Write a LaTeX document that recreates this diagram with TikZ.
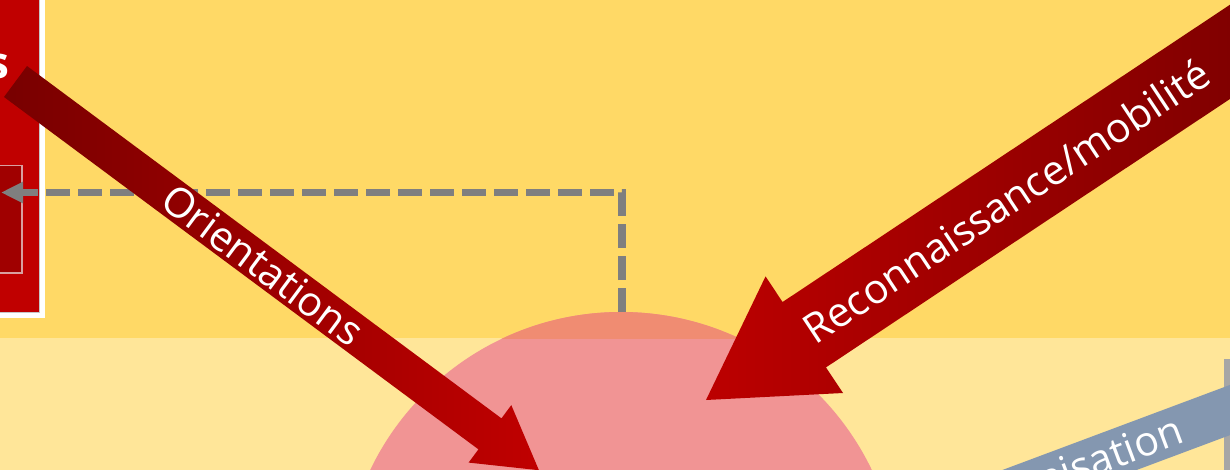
\documentclass[tikz,border=0pt]{standalone}
\usepackage{fontspec}
\setmainfont{Open Sans}
\usetikzlibrary{arrows.meta}
\definecolor{bgtop}{HTML}{FFD966}
\definecolor{bgbot}{HTML}{FFE699}
\definecolor{boxred}{HTML}{C00000}
\definecolor{innerred}{HTML}{A00000}
\definecolor{innerline}{HTML}{D9A0A0}
\definecolor{sunlow}{HTML}{F19494}
\definecolor{sunhigh}{HTML}{F08C72}
\definecolor{dashgray}{HTML}{7F7F7F}
\definecolor{barblue}{HTML}{8497B0}
\definecolor{bargray}{HTML}{A6A6A6}
\definecolor{reddark}{HTML}{780000}
\definecolor{redbright}{HTML}{C00000}
\definecolor{redtip}{HTML}{BC0000}
\definecolor{redtail}{HTML}{780000}
\begin{document}
\begin{tikzpicture}[x=1pt,y=-1pt,
  arrowlabel/.style={text=white, inner sep=0pt, font=\fontsize{41}{49}\selectfont},
  dashlink/.style={dashgray, line width=7.5pt, dash pattern=on 24pt off 8pt, -{Triangle[length=22pt,width=20pt]}}
]
\useasboundingbox (0,0) rectangle (1230,470);
\clip (0,0) rectangle (1230,470);
% background
\fill[bgtop] (0,0) rectangle (1230,338);
\fill[bgbot] (0,338) rectangle (1230,470);
% left box
\fill[white] (-10,-10) rectangle (45,317.5);
\fill[boxred, draw=gray!45, line width=1pt] (-10,-10) rectangle (39.5,312);
\fill[innerred, draw=innerline, line width=1.5pt] (-10,165.5) rectangle (22,273);
\node[anchor=base east, text=white, inner sep=0pt, font=\fontsize{44}{50}\selectfont\bfseries] (boxtitle) at (9.5,79) {s};
\coordinate (boxin) at (1,192.5);
% sun
\fill[sunlow] (621,590) circle[radius=278];
\begin{scope}
  \clip (0,0) rectangle (1230,338);
  \fill[sunhigh] (621,590) circle[radius=278];
\end{scope}
\coordinate (suntop) at (622,312);
% dashed link
\draw[dashlink] (suntop) |- (boxin);
% gray bar right
\fill[bargray] (1224,359) rectangle (1235,475);
% blue arrow
\begin{scope}[shift={(1230,410)}, rotate=20.5]
  \fill[barblue] (60,-23.5) -- (-500,-23.5) -- (-500,23.5) -- (60,23.5) -- cycle;
  \node[arrowlabel, anchor=east, rotate=20.5] (orga) at (-52,0) {nisation};
\end{scope}
% Orientations arrow
\begin{scope}[shift={(15.5,81.5)}, rotate=-36.6]
  \shade[left color=reddark, right color=redbright] (0,-19.3) -- (591,-19.3) -- (591,-35.8) -- (652,0) -- (591,35.8) -- (591,19.3) -- (0,19.3) -- cycle;
  \node[arrowlabel, rotate=-36.6] (orient) at (308,0) {Orientations};
\end{scope}
% Reconnaissance arrow
\begin{scope}[shift={(706,400)}, rotate=33.6]
  \shade[left color=redtip, right color=redtail] (0,0) -- (118,70) -- (118,39.25) -- (700,39.25) -- (700,-39.25) -- (118,-39.25) -- (118,-70) -- cycle;
  \node[arrowlabel, rotate=33.6] (recon) at (360,0) {Reconnaissance/mobilité};
\end{scope}
\end{tikzpicture}
\end{document}
